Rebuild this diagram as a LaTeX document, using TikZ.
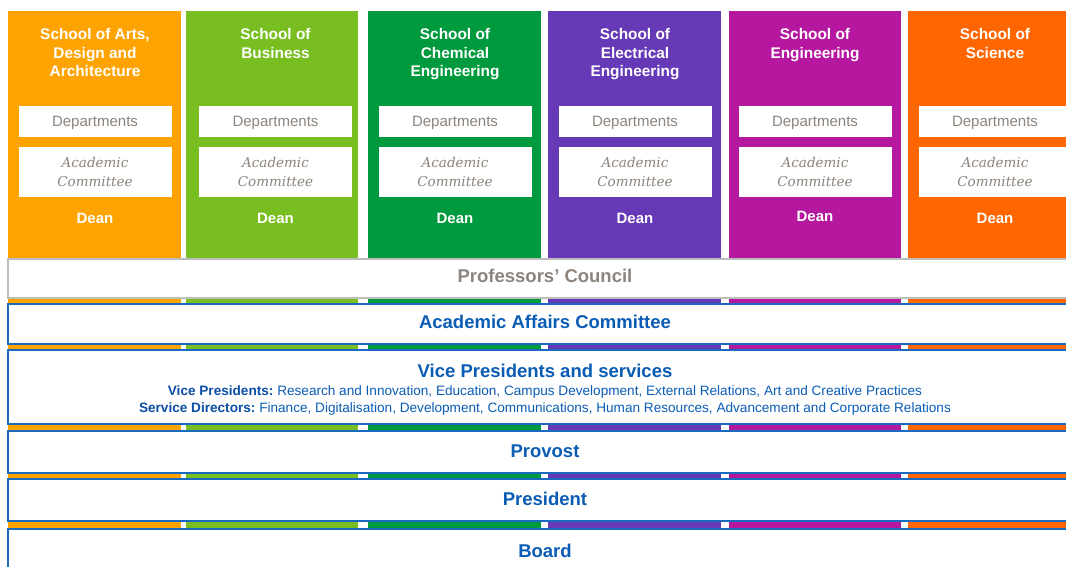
\documentclass[tikz,border=0pt]{standalone}
\usepackage{fontspec}
\setmainfont{Liberation Sans}
\newfontfamily\acfont{DejaVu Serif}
\definecolor{cA}{HTML}{FFA300}
\definecolor{cB}{HTML}{78BE20}
\definecolor{cC}{HTML}{009A3E}
\definecolor{cD}{HTML}{6639B7}
\definecolor{cE}{HTML}{B5179E}
\definecolor{cF}{HTML}{FF6600}
\definecolor{txtgray}{HTML}{8C847D}
\definecolor{bordergray}{HTML}{BDBDBD}
\definecolor{uniblue}{HTML}{0A5CB5}
\definecolor{darkblue}{HTML}{0B4FA6}
\definecolor{lineblue}{HTML}{1A6BC0}
\tikzset{
  schooltitle/.style={text=white, font=\fontsize{15.4}{18.2}\selectfont\bfseries, align=center, anchor=north, inner sep=0pt},
  deptbox/.style={fill=white, minimum width=153pt, minimum height=31pt, inner sep=0pt, text depth=0pt, text=txtgray, font=\fontsize{15}{18}\selectfont},
  acbox/.style={fill=white, minimum width=153pt, minimum height=50pt, inner sep=0pt, text=txtgray, align=center, font=\fontsize{13.5}{19}\selectfont\acfont\itshape},
  deantext/.style={text=white, font=\fontsize{15}{18}\selectfont\bfseries, inner sep=0pt},
  barblue/.style={draw=lineblue, line width=1.6pt, fill=white},
  bargray/.style={draw=bordergray, line width=1.6pt, fill=white},
  bartitle/.style={text=uniblue, font=\fontsize{18.5}{22}\selectfont\bfseries, inner sep=0pt},
  subline/.style={text=uniblue, font=\fontsize{13.6}{16}\selectfont, inner sep=0pt}
}
\begin{document}
\begin{tikzpicture}[x=1pt,y=-1pt]
\useasboundingbox (0,0) rectangle (1066,567);
\fill[white] (0,0) rectangle (1066,567);
\begin{scope}
\clip (0,0) rectangle (1066,567);
% columns
\foreach \xa/\xb/\cx/\col/\nm/\ttl/\dy in {
  8/181/95/cA/a/{School of Arts,\\Design and\\Architecture}/218,
  186/358/275.5/cB/b/{School of\\Business}/218,
  368/541/455/cC/c/{School of\\Chemical\\Engineering}/218,
  548/721/635/cD/d/{School of\\Electrical\\Engineering}/218,
  729/901/815/cE/e/{School of\\Engineering}/216,
  908/1081/995/cF/f/{School of\\Science}/218}{
  \fill[\col] (\xa,11) rectangle (\xb,530);
  \node[schooltitle] (title-\nm) at (\cx,28.5) {\ttl};
  \node[deptbox] (dept-\nm) at (\cx,121.5) {Departments};
  \node[acbox] (ac-\nm) at (\cx,172) {Academic\\Committee};
  \node[deantext] (dean-\nm) at (\cx,\dy) {Dean};
}
% bars
\path[bargray] (8,259) rectangle (1100,298);
\node[bartitle, text=txtgray] (council) at (545,276) {Professors’ Council};
\path[barblue] (8,304) rectangle (1100,344);
\node[bartitle] (aac) at (545,322) {Academic Affairs Committee};
\path[barblue] (8,350) rectangle (1100,424);
\node[bartitle] (vp) at (545,371) {Vice Presidents and services};
\node[subline] (vp1) at (545,392) {\textbf{\color{darkblue}Vice Presidents:}\ Research and Innovation, Education, Campus Development, External Relations, Art and Creative Practices};
\node[subline] (vp2) at (545,409) {\textbf{\color{darkblue}Service Directors:}\ Finance, Digitalisation, Development, Communications, Human Resources, Advancement and Corporate Relations};
\path[barblue] (8,431) rectangle (1100,473);
\node[bartitle] (provost) at (545,451) {Provost};
\path[barblue] (8,479) rectangle (1100,521);
\node[bartitle] (president) at (545,499) {President};
\path[barblue] (8,529) rectangle (1100,600);
\node[bartitle] (board) at (545,551) {Board};
\end{scope}
\end{tikzpicture}
\end{document}
